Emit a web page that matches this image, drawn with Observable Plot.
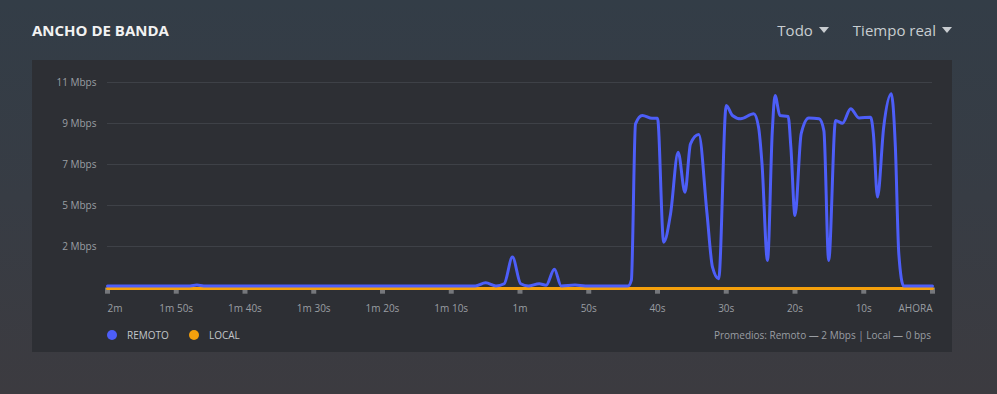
<!DOCTYPE html>
<html>
<head>
<meta charset="utf-8">
<script src="https://cdn.jsdelivr.net/npm/d3@7"></script>
<script src="https://cdn.jsdelivr.net/npm/@observablehq/plot@0.6"></script>
<style>
  html, body { margin: 0; padding: 0; }
  body {
    width: 997px; height: 394px; overflow: hidden; position: relative;
    background: linear-gradient(180deg, #333d47 0%, #373c44 50%, #3c3b40 100%);
    font-family: "Open Sans", sans-serif;
  }
  #title { position: absolute; left: 32px; top: 23px; font-size: 15px; line-height: 15px; font-weight: 700; color: #f2f2f2; }
  #menus { position: absolute; right: 45px; top: 23px; font-size: 15px; line-height: 15px; color: #c9cdd1; display: flex; gap: 24px; }
  .tri { display: inline-block; width: 0; height: 0; border-left: 5px solid transparent; border-right: 5px solid transparent; border-top: 6px solid #c9cdd1; margin-left: 6px; vertical-align: 3px; }
  #panel { position: absolute; left: 32px; top: 60px; width: 920px; height: 292px; background: #2d2f34; }
  #chart { position: absolute; left: 32px; top: 60px; }
  .leg { position: absolute; top: 329px; font-size: 10px; line-height: 12px; color: #c2c6ca; display: flex; align-items: center; }
  .dot { width: 10px; height: 10px; border-radius: 50%; margin-right: 10px; }
  #avg { position: absolute; right: 66px; top: 329px; font-size: 10px; line-height: 12px; color: #9a9ea3; }
</style>
</head>
<body>
<div id="title">ANCHO DE BANDA</div>
<div id="menus"><span>Todo<span class="tri"></span></span><span>Tiempo real<span class="tri"></span></span></div>
<div id="panel"></div>
<div id="chart"></div>
<div class="leg" style="left:107px"><span class="dot" style="background:#4d5ef8"></span>REMOTO</div>
<div class="leg" style="left:189px"><span class="dot" style="background:#f4a00c"></span>LOCAL</div>
<div id="avg">Promedios: Remoto — 2 Mbps | Local — 0 bps</div>
<script>
// seconds before now
const remoteTimes = [-120, -108, -107, -106, -66.5, -65, -63.5, -62.3, -61.1, -59.9, -58.8, -57.2, -56.2, -55, -54, -52, -50.5,
  -44.3, -43.8, -43.2, -42.2, -40.8, -40.0, -39.1, -38.1, -37.0, -36.0, -35.2, -34.0, -32.8, -32.0, -31.1,
  -30.0, -29.1, -27.9, -26.0, -25.3, -24.8, -24.0, -23.3, -22.9, -22.2, -21.0, -20.6, -20.0, -19.1, -18.0,
  -16.5, -15.8, -15.1, -14.1, -13.1, -11.9, -10.7, -9.0, -8.6, -8.0, -7.1, -6.0, -5.4, -4.9, -4.2, 0];
// Mbps
const remoteValues = [0.08, 0.08, 0.13, 0.08, 0.08, 0.25, 0.08, 0.2, 1.63, 0.2, 0.08, 0.2, 0.12, 0.98, 0.08, 0.13, 0.08,
  0.08, 0.4, 8.78, 9.23, 9.08, 9.08, 2.43, 3.96, 7.26, 5.11, 7.71, 8.21, 3.97, 1.09, 0.47,
  9.77, 9.23, 9.05, 9.32, 8.6, 6.65, 1.45, 8.4, 10.3, 9.23, 9.18, 7.53, 3.86, 8.25, 9.1,
  9.05, 8.42, 1.45, 8.96, 8.82, 9.59, 9.1, 9.14, 8.25, 4.85, 8.6, 10.39, 7.53, 1.8, 0.08, 0.08];
const localTimes = [-120, 0];
const localValues = [0, 0];

const yTicks = [2.2, 4.4, 6.6, 8.8, 11];
const yTickLabels = ["2 Mbps", "5 Mbps", "7 Mbps", "9 Mbps", "11 Mbps"];
const xTicks = [-120, -110, -100, -90, -80, -70, -60, -50, -40, -30, -20, -10, 0];
const xTickLabels = ["2m", "1m 50s", "1m 40s", "1m 30s", "1m 20s", "1m 10s", "1m", "50s", "40s", "30s", "20s", "10s", "AHORA"];

const remote = remoteTimes.map((t, i) => ({t, v: remoteValues[i]}));
const local = localTimes.map((t, i) => ({t, v: localValues[i]}));
const xLab = xTicks.map((t, i) => ({t, label: xTickLabels[i]}));

const labelStyle = {fill: "#9a9ea3", fontSize: 10, fontFamily: "Open Sans"};

const chart = Plot.plot({
  width: 920,
  height: 262,
  marginLeft: 75,
  marginRight: 20,
  marginTop: 22,
  marginBottom: 35,
  style: {background: "transparent", fontFamily: "Open Sans", overflow: "visible"},
  x: {domain: [-120, 0], axis: null},
  y: {domain: [0, 11], axis: null},
  marks: [
    Plot.ruleY(yTicks, {stroke: "#3e4147", strokeWidth: 1}),
    Plot.axisY(yTicks, {label: null, tickSize: 0, tickPadding: 11, tickFormat: (d, i) => yTickLabels[i], ...labelStyle}),
    Plot.ruleX(xTicks, {x: d => d, y1: -0.03, y2: -0.36, stroke: "#75777b", strokeWidth: 5}),
    Plot.text(xLab.slice(0, 1), {x: "t", text: "label", frameAnchor: "bottom", dy: 24, textAnchor: "start", ...labelStyle}),
    Plot.text(xLab.slice(1, -1), {x: "t", text: "label", frameAnchor: "bottom", dy: 24, textAnchor: "middle", ...labelStyle}),
    Plot.text(xLab.slice(-1), {x: "t", text: "label", frameAnchor: "bottom", dy: 24, textAnchor: "end", ...labelStyle}),
    Plot.line(local, {x: "t", y: "v", stroke: "#f4a00c", strokeWidth: 3, dy: 1}),
    Plot.line(remote, {x: "t", y: "v", stroke: "#4d5ef8", strokeWidth: 3, curve: "monotone-x"})
  ]
});
document.getElementById("chart").appendChild(chart);
</script>
</body>
</html>
